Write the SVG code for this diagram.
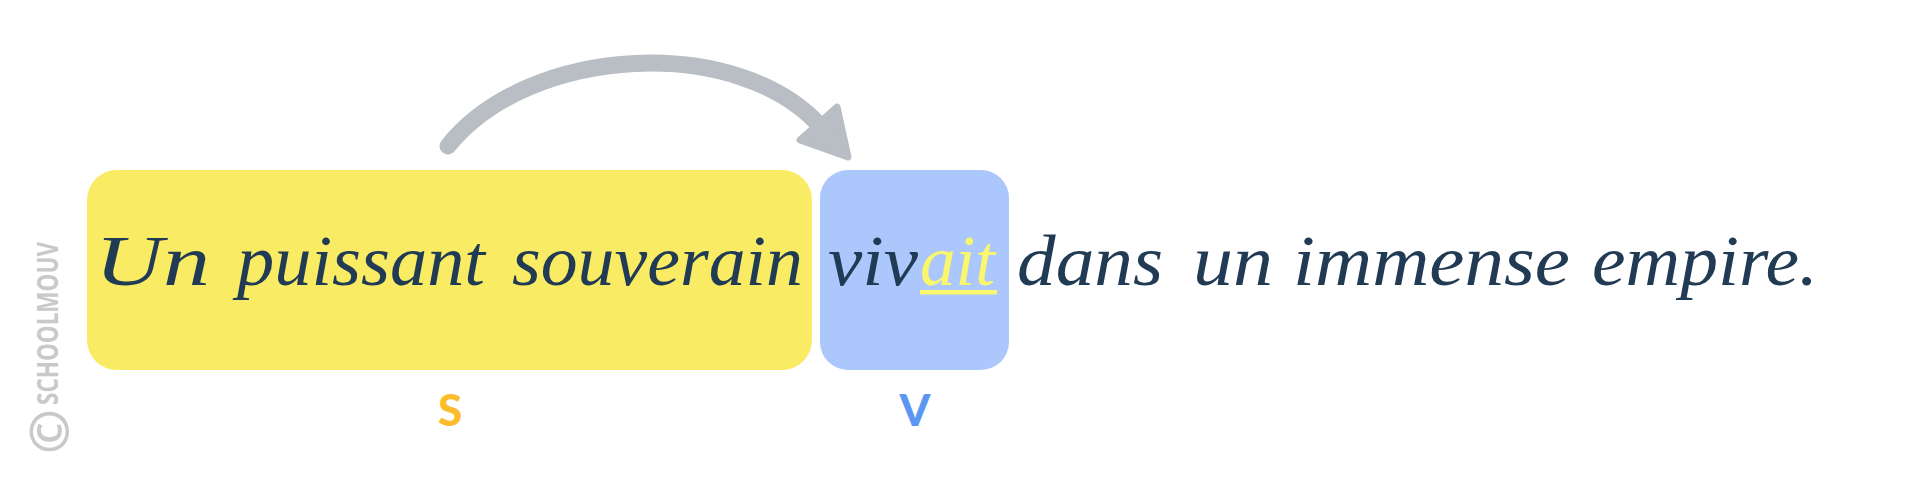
<svg xmlns="http://www.w3.org/2000/svg" width="1921" height="480" viewBox="0 0 1921 480">
  <defs>
    <style>
      .w { font-family: "Liberation Serif", "DejaVu Serif", serif; font-style: italic; font-size: 72px; fill: #213b55; }
      .hl { fill: #fbf76c; }
      .lbl { font-family: Lato, "Open Sans", "Liberation Sans", sans-serif; font-weight: 900; font-size: 44px; text-anchor: middle; }
      .wm { font-family: "Open Sans", "Liberation Sans", sans-serif; font-weight: bold; fill: #c9c9c9; }
    </style>
  </defs>
  <rect width="1921" height="480" fill="#ffffff"/>

  <g id="watermark">
    <text class="wm" font-size="28" transform="translate(58,405) rotate(-90)" textLength="163" lengthAdjust="spacingAndGlyphs">SCHOOLMOUV</text>
    <text class="wm" font-size="54" text-anchor="middle" dominant-baseline="central" transform="translate(46.5,431.5) rotate(-90)">©</text>
  </g>

  <g id="connectors">
    <path d="M448,146 C530,44 740,34 822,128" fill="none" stroke="#b8bec3" stroke-width="17" stroke-linecap="round"/>
    <polygon points="848,157 837,107 800,140" fill="#b8bec3" stroke="#b8bec3" stroke-width="7" stroke-linejoin="round"/>
  </g>

  <g id="subject">
    <rect x="87" y="170" width="725" height="200" rx="30" ry="30" fill="#f9ec64"/>
    <text class="w" x="95" y="285" textLength="115" lengthAdjust="spacingAndGlyphs">Un</text>
    <text class="w" x="237" y="285" textLength="248" lengthAdjust="spacingAndGlyphs">puissant</text>
    <text class="w" x="512" y="285" textLength="291" lengthAdjust="spacingAndGlyphs">souverain</text>
    <text class="lbl" x="450" y="426" fill="#fbbd2c">S</text>
  </g>

  <g id="verb">
    <rect x="820" y="170" width="189" height="200" rx="28" ry="28" fill="#abc7fc"/>
    <text class="w" x="828" y="285" textLength="90" lengthAdjust="spacingAndGlyphs">viv</text>
    <text class="w hl" x="920" y="285" textLength="75" lengthAdjust="spacingAndGlyphs">ait</text>
    <rect x="920" y="290" width="77" height="4.5" fill="#fbf76c"/>
    <text class="lbl" x="915" y="426" fill="#5b96f2">V</text>
  </g>

  <g id="rest">
    <text class="w" x="1017" y="285" textLength="146" lengthAdjust="spacingAndGlyphs">dans</text>
    <text class="w" x="1193" y="285" textLength="80" lengthAdjust="spacingAndGlyphs">un</text>
    <text class="w" x="1293" y="285" textLength="277" lengthAdjust="spacingAndGlyphs">immense</text>
    <text class="w" x="1592" y="285" textLength="226" lengthAdjust="spacingAndGlyphs">empire.</text>
  </g>
</svg>
